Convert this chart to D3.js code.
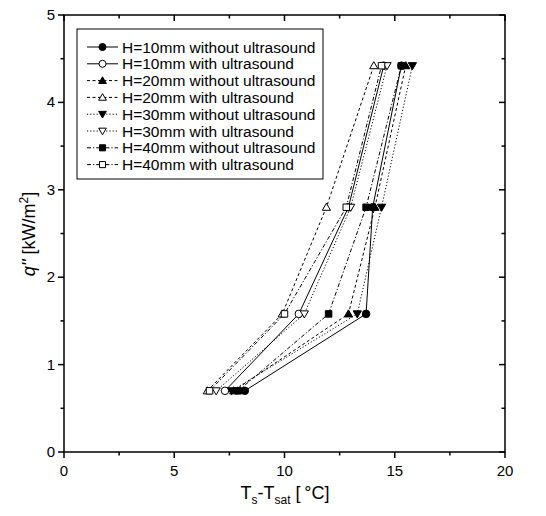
<!DOCTYPE html>
<html>
<head>
<meta charset="utf-8">
<script src="https://cdn.jsdelivr.net/npm/d3@7"></script>
<style>
  body { margin: 0; background: #fff; }
  text { font-family: "Liberation Sans", Arial, sans-serif; }
</style>
</head>
<body>
<div id="chart"></div>
<script>
// heat flux levels (kW/m2), same for all runs
const qLevels = [0.7, 1.58, 2.8, 4.42];

// wall superheat Ts-Tsat for each run
const h10Without = [8.2, 13.7, 14.0, 15.3];
const h10With    = [7.3, 10.65, 12.9, 14.5];
const h20Without = [7.7, 12.9, 14.1, 15.5];
const h20With    = [6.5, 9.9, 11.9, 14.05];
const h30Without = [7.6, 13.3, 14.4, 15.8];
const h30With    = [6.9, 10.9, 13.0, 14.65];
const h40Without = [7.9, 12.0, 13.7, 15.3];
const h40With    = [6.6, 10.0, 12.8, 14.4];

const seriesNames = [
  "H=10mm without ultrasound", "H=10mm with ultrasound",
  "H=20mm without ultrasound", "H=20mm with ultrasound",
  "H=30mm without ultrasound", "H=30mm with ultrasound",
  "H=40mm without ultrasound", "H=40mm with ultrasound"
];
const seriesValues = [h10Without, h10With, h20Without, h20With,
                      h30Without, h30With, h40Without, h40With];

const xTicks = [0, 5, 10, 15, 20];
const yTicks = [0, 1, 2, 3, 4, 5];

// style per series
const dashes = [null, null, "3,2.5", "3,2.5", "1.2,2", "1.2,2", "4,2,1.2,2", "4,2,1.2,2"];
const shapes = ["circle", "circle", "up", "up", "down", "down", "square", "square"];
const filled = [true, false, true, false, true, false, true, false];

const width = 546, height = 516;
const margin = { left: 64, right: 41, top: 15, bottom: 64 };

const svg = d3.select("#chart").append("svg")
  .attr("width", width).attr("height", height);

const x = d3.scaleLinear().domain([0, 20]).range([margin.left, width - margin.right]);
const y = d3.scaleLinear().domain([0, 5]).range([height - margin.bottom, margin.top]);

function markerPath(shape, s) {
  if (shape === "circle") return d3.symbol(d3.symbolCircle, s * s * 0.8)();
  if (shape === "square") return d3.symbol(d3.symbolSquare, s * s * 0.75)();
  const h = s * 0.9, w = s * 0.55;
  if (shape === "up") return `M0,${-h*0.6}L${w},${h*0.45}L${-w},${h*0.45}Z`;
  return `M0,${h*0.6}L${w},${-h*0.45}L${-w},${-h*0.45}Z`;
}

const line = d3.line().x(d => x(d[0])).y(d => y(d[1]));

// series lines and markers
seriesValues.forEach((vals, i) => {
  const pts = vals.map((v, k) => [v, qLevels[k]]);
  svg.append("path")
    .attr("d", line(pts))
    .attr("fill", "none")
    .attr("stroke", "#000")
    .attr("stroke-width", 1)
    .attr("stroke-dasharray", dashes[i]);
  svg.selectAll(null).data(pts).enter().append("path")
    .attr("d", markerPath(shapes[i], 7.5))
    .attr("transform", d => `translate(${x(d[0])},${y(d[1])})`)
    .attr("fill", filled[i] ? "#000" : "#fff")
    .attr("stroke", "#000")
    .attr("stroke-width", 1);
});

// frame and axes
const axisG = svg.append("g").attr("stroke", "#000").attr("stroke-width", 1.5);
axisG.append("rect")
  .attr("x", x(0)).attr("y", y(5))
  .attr("width", x(20) - x(0)).attr("height", y(0) - y(5))
  .attr("fill", "none");

const xMinor = d3.range(0, 20.01, 2.5);
const yMinor = d3.range(0, 5.01, 0.5);
xMinor.forEach(v => {
  const major = v % 5 === 0;
  const len = major ? 6 : 3.5;
  axisG.append("line").attr("x1", x(v)).attr("x2", x(v))
    .attr("y1", y(0)).attr("y2", y(0) + len);
  axisG.append("line").attr("x1", x(v)).attr("x2", x(v))
    .attr("y1", y(5)).attr("y2", y(5) + len);
});
yMinor.forEach(v => {
  const major = Number.isInteger(v);
  const len = major ? 6 : 3.5;
  axisG.append("line").attr("x1", x(0) - len).attr("x2", x(0))
    .attr("y1", y(v)).attr("y2", y(v));
  axisG.append("line").attr("x1", x(20) - len).attr("x2", x(20))
    .attr("y1", y(v)).attr("y2", y(v));
});

svg.selectAll(".xt").data(xTicks).enter().append("text")
  .attr("x", d => x(d)).attr("y", y(0) + 24)
  .attr("text-anchor", "middle").attr("font-size", 15)
  .text(d => d);
svg.selectAll(".yt").data(yTicks).enter().append("text")
  .attr("x", x(0) - 9).attr("y", d => y(d) + 5)
  .attr("text-anchor", "end").attr("font-size", 15)
  .text(d => d);

// axis titles
const xt = svg.append("text")
  .attr("x", 285).attr("y", 499)
  .attr("text-anchor", "middle").attr("font-size", 18);
xt.append("tspan").text("T");
xt.append("tspan").attr("dy", 5).attr("font-size", 12).text("s");
xt.append("tspan").attr("dy", -5).text("-T");
xt.append("tspan").attr("dy", 5).attr("font-size", 12).text("sat");
xt.append("tspan").attr("dy", -5).text(" [\u2009°C]");

const yt = svg.append("text")
  .attr("transform", "translate(35,234) rotate(-90)")
  .attr("text-anchor", "middle").attr("font-size", 18);
yt.append("tspan").attr("font-style", "italic").text("q''");
yt.append("tspan").text(" [kW/m");
yt.append("tspan").attr("dy", -7).attr("font-size", 12).text("2");
yt.append("tspan").attr("dy", 7).text("]");

// legend
const leg = svg.append("g");
leg.append("rect")
  .attr("x", 77).attr("y", 29).attr("width", 246).attr("height", 150)
  .attr("fill", "#fff").attr("stroke", "#000").attr("stroke-width", 1);
seriesNames.forEach((name, i) => {
  const cy = 47 + i * 16.8;
  leg.append("line")
    .attr("x1", 87).attr("x2", 118).attr("y1", cy).attr("y2", cy)
    .attr("stroke", "#000").attr("stroke-width", 1)
    .attr("stroke-dasharray", dashes[i]);
  leg.append("path")
    .attr("d", markerPath(shapes[i], 7))
    .attr("transform", `translate(102.5,${cy})`)
    .attr("fill", filled[i] ? "#000" : "#fff")
    .attr("stroke", "#000").attr("stroke-width", 1);
  leg.append("text")
    .attr("x", 122).attr("y", cy + 5.5)
    .attr("font-size", 15.5)
    .text(name);
});
</script>
</body>
</html>
